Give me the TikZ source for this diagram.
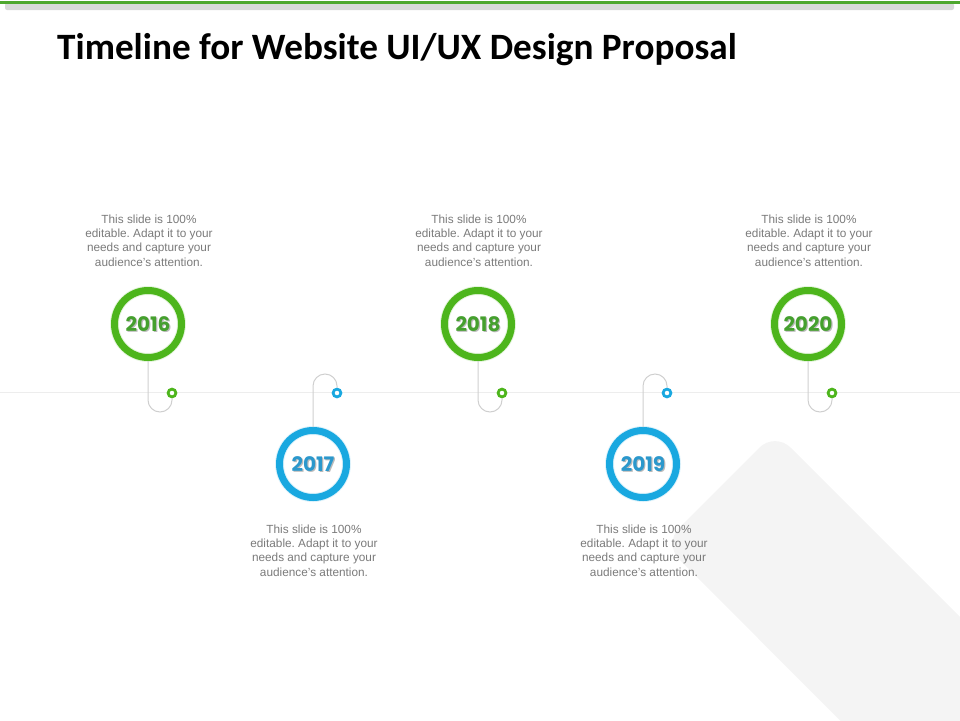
\documentclass[tikz,border=0pt]{standalone}
\usepackage{fontspec}
\setmainfont{Liberation Sans}
\newfontfamily\titlefont{Carlito}
\newfontfamily\yearfont{Poppins}
\definecolor{topgreen}{HTML}{4EA72E}
\definecolor{shadowbar}{HTML}{D9D9D9}
\definecolor{ringgreen}{HTML}{4DB51C}
\definecolor{txtgreen}{HTML}{45A02E}
\definecolor{ringblue}{HTML}{19A8E0}
\definecolor{txtblue}{HTML}{2B98CC}
\definecolor{desccol}{HTML}{7A7A7A}
\definecolor{bandcol}{HTML}{F4F4F4}
\definecolor{conncol}{HTML}{CFCFCF}
\definecolor{axiscol}{HTML}{EDEDED}
\tikzset{
  ringnode/.style={circle, draw=#1, line width=7pt, minimum size=67pt, inner sep=0pt},
  ringglow/.style={circle, draw=#1!14, line width=9pt, minimum size=67pt, inner sep=0pt},
  dotnode/.style={circle, draw=#1, line width=2.8pt, minimum size=7.8pt, inner sep=0pt, fill=white},
  yeartxt/.style={text=#1, font=\yearfont\bfseries\fontsize{20}{20}\selectfont, inner sep=0pt},
  yearshadow/.style={text=black!45, opacity=0.6, font=\yearfont\bfseries\fontsize{20}{20}\selectfont, inner sep=0pt},
  desctxt/.style={text=desccol, align=center, font=\frenchspacing\fontsize{11.8}{14.4}\selectfont, inner sep=0pt},
  conn/.style={draw=conncol, line width=1pt, rounded corners=12pt},
}
\begin{document}
\begin{tikzpicture}[x=1pt,y=-1pt]
\useasboundingbox (0,0) rectangle (960,720);
\begin{scope}
\clip (0,0) rectangle (960,720);
% background band
\fill[bandcol, rounded corners=22pt] (663.5,543.5) -- (775,432) -- (1150,807) -- (1038,919) -- cycle;
% top bars
\fill[shadowbar, rounded corners=2pt] (5,3) rectangle (954,10);
\fill[topgreen] (0,0.8) rectangle (960,3.6);
\end{scope}
% title
\node[anchor=base west, inner sep=0pt, font=\titlefont\bfseries\fontsize{37.2}{37.2}\selectfont] (title) at (57,59.5) {Timeline for Website UI/UX Design Proposal};
% axis
\coordinate (axL) at (0,392.5);
\coordinate (axR) at (960,392.5);
\draw[axiscol, line width=1.2pt] (axL) -- (axR);

% glows
\foreach \x/\y/\c in {148/324/ringgreen, 313/464/ringblue, 478/324/ringgreen, 643/464/ringblue, 808/324/ringgreen}
  \node[ringglow=\c] at (\x,\y) {};

% rings
\node[ringnode=ringgreen] (c16) at (148,324) {};
\node[ringnode=ringblue]  (c17) at (313,464) {};
\node[ringnode=ringgreen] (c18) at (478,324) {};
\node[ringnode=ringblue]  (c19) at (643,464) {};
\node[ringnode=ringgreen] (c20) at (808,324) {};

% dots
\node[dotnode=ringgreen] (d16) at (172,393) {};
\node[dotnode=ringblue]  (d17) at (337,393) {};
\node[dotnode=ringgreen] (d18) at (502,393) {};
\node[dotnode=ringblue]  (d19) at (667,393) {};
\node[dotnode=ringgreen] (d20) at (832,393) {};

% connectors
\draw[conn] (c16.south) -- (148,412) -- (172,412) -- (d16.south);
\draw[conn] (c18.south) -- (478,412) -- (502,412) -- (d18.south);
\draw[conn] (c20.south) -- (808,412) -- (832,412) -- (d20.south);
\draw[conn] (c17.north) -- (313,374) -- (337,374) -- (d17.north);
\draw[conn] (c19.north) -- (643,374) -- (667,374) -- (d19.north);

% year labels
\node[yearshadow] at (149.2,325.4) {2016};
\node[yeartxt=txtgreen] (y16) at (c16) {2016};
\node[yearshadow] at (314.2,465.4) {2017};
\node[yeartxt=txtblue] (y17) at (c17) {2017};
\node[yearshadow] at (479.2,325.4) {2018};
\node[yeartxt=txtgreen] (y18) at (c18) {2018};
\node[yearshadow] at (644.2,465.4) {2019};
\node[yeartxt=txtblue] (y19) at (c19) {2019};
\node[yearshadow] at (809.2,325.4) {2020};
\node[yeartxt=txtgreen] (y20) at (c20) {2020};

% descriptions
\node[desctxt] (t16) at (149,240.5) {This slide is 100\%\\editable. Adapt it to your\\needs and capture your\\audience's attention.};
\node[desctxt] (t18) at (479,240.5) {This slide is 100\%\\editable. Adapt it to your\\needs and capture your\\audience's attention.};
\node[desctxt] (t20) at (809,240.5) {This slide is 100\%\\editable. Adapt it to your\\needs and capture your\\audience's attention.};
\node[desctxt] (t17) at (314,550.5) {This slide is 100\%\\editable. Adapt it to your\\needs and capture your\\audience's attention.};
\node[desctxt] (t19) at (644,550.5) {This slide is 100\%\\editable. Adapt it to your\\needs and capture your\\audience's attention.};
\end{tikzpicture}
\end{document}
